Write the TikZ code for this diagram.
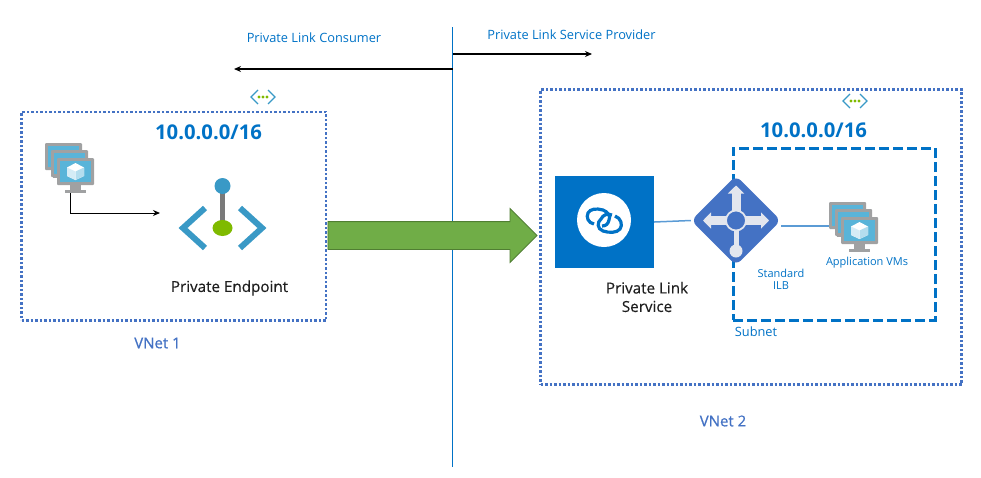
\documentclass[tikz,border=0pt]{standalone}
\usepackage{fontspec}
\setmainfont{Open Sans}
\usetikzlibrary{shapes.geometric,shapes.arrows,arrows.meta}
\definecolor{azure}{HTML}{0072C6}
\definecolor{vnetblue}{HTML}{4472C4}
\definecolor{skyblue}{HTML}{59B4D9}
\definecolor{iconblue}{HTML}{3999C6}
\definecolor{icongreen}{HTML}{7FBA00}
\definecolor{icongray}{HTML}{A0A1A2}
\definecolor{stemgray}{HTML}{7A7A7A}
\definecolor{linkblue}{HTML}{5B9BD5}
\definecolor{fatgreen}{HTML}{70AD47}
\definecolor{fatedge}{HTML}{507E32}
\definecolor{labelgray}{HTML}{1F1F1F}
\definecolor{ilbwhite}{HTML}{E3E6EE}
\tikzset{
  monitor/.pic={
    \fill[icongray] (13,27) rectangle (24,32);
    \fill[icongray] (8,32) rectangle (29,35);
    \fill[icongray,rounded corners=1pt] (0,0) rectangle (37,27);
    \fill[skyblue] (3,3) rectangle (34,24);
  },
  vmstack/.pic={
    \pic at (-12,-15) {monitor};
    \pic at (-6,-8) {monitor};
    \pic at (0,0) {monitor};
    \fill[white] (18.5,5) -- (27,9.5) -- (27,18) -- (18.5,22) -- (10,18) -- (10,9.5) -- cycle;
    \fill[skyblue!45] (18.5,13.5) -- (27,9.5) -- (27,18) -- (18.5,22) -- cycle;
    \fill[skyblue!25] (18.5,13.5) -- (10,9.5) -- (10,18) -- (18.5,22) -- cycle;
    \coordinate (-base) at (13,35);
    \coordinate (-west) at (-12,9);
  },
  vnetmark/.pic={
    \draw[iconblue,line width=1.2pt] (-5,-7) -- (-12,0) -- (-5,7);
    \draw[iconblue,line width=1.2pt] (5,-7) -- (12,0) -- (5,7);
    \foreach \dotx in {-4,0,4}
      \fill[icongreen] (\dotx,0) circle (1.6);
  },
  vnetbox/.style={draw=vnetblue,line width=2.5pt,dash pattern=on 2.5pt off 2pt},
  subnetbox/.style={draw=azure,line width=3pt,dash pattern=on 10pt off 4pt},
  cidr/.style={text=azure,font=\fontsize{20.3}{22}\selectfont\bfseries,inner sep=0},
  caption/.style={text=labelgray,font=\fontsize{15.2}{18.5}\selectfont\addfontfeature{FakeBold=0.4},align=center,inner sep=0},
  vnetlabel/.style={text=vnetblue,font=\fontsize{15}{16}\selectfont\addfontfeature{FakeBold=0.8},inner sep=0},
  sidelabel/.style={text=azure,font=\fontsize{12.8}{14}\selectfont,inner sep=0},
  smalllabel/.style={text=azure,font=\fontsize{11}{12}\selectfont,align=center,inner sep=0},
  sideline/.style={black,line width=1.2pt,-{Stealth[length=7pt,width=6pt]}},
  linkline/.style={draw=linkblue,line width=1.5pt},
  ilbarrow/.style={draw=ilbwhite,line width=9pt,-{Triangle[length=8pt,width=16pt]}}
}
\begin{document}
\begin{tikzpicture}[x=1pt,y=-1pt]
\useasboundingbox (0,0) rectangle (981,477);
\coordinate (splittop) at (452.5,27);
\coordinate (splitbottom) at (452.5,467);
\coordinate (splitconsumer) at (452.5,69);
\coordinate (splitprovider) at (452.5,54);
\coordinate (consumerend) at (234,69);
\coordinate (providerend) at (592,54);
\draw[azure,line width=0.8pt] (splittop) -- (splitbottom);
\draw[sideline] (splitconsumer) -- (consumerend);
\draw[sideline] (splitprovider) -- (providerend);
\node[sidelabel] (consumer) at (314,38) {Private Link Consumer};
\node[sidelabel] (provider) at (571.5,35) {Private Link Service Provider};

% left vnet
\node[vnetbox,minimum width=304.6,minimum height=208.4,inner sep=0] (vnetone) at (173.9,216.2) {};
\pic at (263,97) {vnetmark};
\node[cidr] (cidrone) at (208.5,132) {10.0.0.0/16};
\pic (vmone) at (57,158) {vmstack};
\coordinate (endpointin) at (160,213);
\draw[black,line width=1pt,-{Stealth[length=7pt,width=6pt]}] (vmone-base) |- (endpointin);
\draw[iconblue,line width=6pt] (205,208) -- (183,228) -- (205,248);
\draw[iconblue,line width=6pt] (240,208) -- (262,228) -- (240,248);
\draw[stemgray,line width=5pt] (222.5,186) -- (222.5,228);
\fill[iconblue] (222.5,186) circle (8);
\fill[icongreen] (222.5,228) ellipse (10 and 8);
\node[caption] (endpointlabel) at (229.5,288) {Private Endpoint};
\node[vnetlabel] (vnetonelabel) at (157.5,343) {VNet 1};

% the fat arrow
\node[single arrow,draw=fatedge,fill=fatgreen,line width=0.8pt,minimum width=53,minimum height=209,
  single arrow head extend=13,inner sep=13.5] (fatarrow) at (425.5,235.5) {};

% right vnet
\node[vnetbox,minimum width=421,minimum height=295,inner sep=0] (vnettwo) at (751,237) {};
\pic at (855,101) {vnetmark};
\node[cidr] (cidrtwo) at (813.5,130) {10.0.0.0/16};
\node[subnetbox,minimum width=202,minimum height=172,inner sep=0] (subnet) at (834,234) {};
\node[sidelabel] (subnetlabel) at (756,332) {Subnet};
\node[fill=azure,minimum width=99,minimum height=92,inner sep=0] (plsbox) at (604.5,222) {};
\fill[white] (604,220) circle (27);
\draw[azure,line width=3.2pt] (594,224) .. controls (588,223) and (586,217) .. (588,213) .. controls (590,209) and (596,208) .. (603,210) .. controls (608,212) and (611,216) .. (609,220) .. controls (608,224) and (606,226) .. (602,226);
\draw[azure,line width=3.2pt] (612,215) .. controls (607,213) and (603,215) .. (601,219) .. controls (597,222) and (597,229) .. (603,231) .. controls (609,233) and (617,233) .. (620,229) .. controls (623,225) and (621,218) .. (615,216);
\node[caption] (plslabel) at (647,297) {Private Link\\Service};
\node[diamond,fill=vnetblue,rounded corners=7pt,minimum size=90,inner sep=0] (ilb) at (736,220.5) {};
\pic (vmtwo) at (841,217) {vmstack};
\draw[linkline] (plsbox.east) -- (ilb.west);
\draw[linkline] (vmtwo-west -| ilb.east) -- (vmtwo-west);
\coordinate (ilbball) at (736,251);
\draw[ilbarrow] (ilb.center) -- ++(0,-35);
\draw[ilbarrow] (ilb.center) -- ++(-33,0);
\draw[ilbarrow] (ilb.center) -- ++(33,0);
\draw[draw=ilbwhite,line width=5pt] (ilb.center) -- (ilbball);
\fill[ilbwhite] (ilbball) circle (6.5);
\draw[draw=ilbwhite,fill=vnetblue,line width=1.8pt] (ilb.center) circle (10);
\node[smalllabel] (ilblabel) at (781,279) {Standard\\ILB};
\node[smalllabel] (vmlabel) at (867,263) {Application VMs};
\node[vnetlabel] (vnettwolabel) at (723,421) {VNet 2};
\end{tikzpicture}
\end{document}
